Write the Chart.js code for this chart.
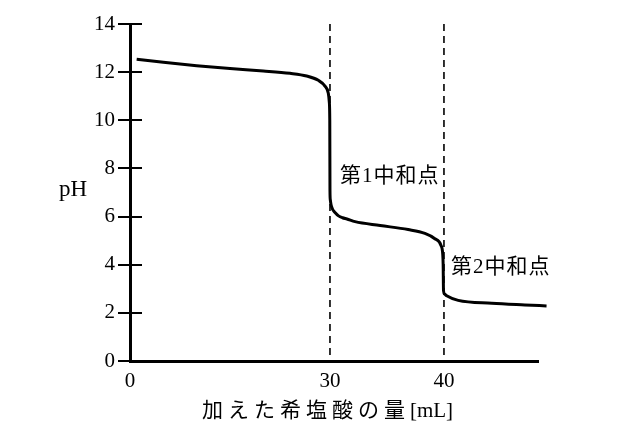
<!DOCTYPE html>
<html>
<head>
<meta charset="utf-8">
<script src="https://cdn.jsdelivr.net/npm/chart.js@4/dist/chart.umd.min.js"></script>
<style>
  html, body { margin: 0; padding: 0; background: #fff; }
  #c { display: block; }
</style>
</head>
<body>
<canvas id="c" width="640" height="445"></canvas>
<script>
// ---- data ----
const volumeML = [1, 5, 10, 15, 20, 24, 26.5, 28.25, 29.25, 29.75, 29.9, 29.97, 30.0, 30.026, 30.09, 30.22, 30.44, 30.75, 31.1, 31.49, 32.2, 34.4, 36.85, 38.33, 39.2, 39.74, 39.89, 39.93, 39.96, 40.04, 40.24, 41.25, 44.2, 47.1, 49];
const pHValues = [12.54, 12.41, 12.27, 12.15, 12.05, 11.95, 11.84, 11.66, 11.42, 11.12, 10.75, 10.0, 7.08, 6.71, 6.50, 6.31, 6.17, 6.03, 5.95, 5.90, 5.79, 5.63, 5.46, 5.30, 5.08, 4.80, 4.45, 4.0, 2.92, 2.79, 2.71, 2.52, 2.40, 2.33, 2.29];
const equivalencePoints = [30, 40];
const equivalenceLabels = ['第1中和点', '第2中和点'];
const xTickValues = [0, 30, 40];
const yTickStep = 2;
const xAxisTitleMain = '加えた希塩酸の量';
const xAxisTitleUnit = '[mL]';
const yAxisTitle = 'pH';

const FONT = '"Liberation Serif", "Noto Sans CJK JP", serif';

// piecewise-stretched linear scale (schematic axis: region after 30 mL is drawn wider)
const STRETCH_FROM = 30, STRETCH_FACTOR = 1.71;
class StretchScale extends Chart.LinearScale {
  warp(v) { return v <= STRETCH_FROM ? v : STRETCH_FROM + (v - STRETCH_FROM) * STRETCH_FACTOR; }
  getPixelForValue(value) {
    if (value === null || value === undefined) return NaN;
    const a = this.warp(this.min), b = this.warp(this.max);
    return this.getPixelForDecimal((this.warp(value) - a) / (b - a));
  }
}
StretchScale.id = 'stretch';
StretchScale.defaults = Chart.LinearScale.defaults;
Chart.register(StretchScale);

const curve = volumeML.map((v, i) => ({ x: v, y: pHValues[i] }));
const dashed = equivalencePoints.map(v => ({
  data: [{ x: v, y: 14 }, { x: v, y: 0 }],
  borderColor: '#000', borderWidth: 1.6, borderDash: [7, 5],
  pointRadius: 0, tension: 0, fill: false
}));

const overlay = {
  id: 'overlay',
  afterDraw(chart) {
    const ctx = chart.ctx, xs = chart.scales.x, ys = chart.scales.y, ca = chart.chartArea;
    ctx.save();
    // y tick marks crossing the axis
    ctx.strokeStyle = '#000'; ctx.lineWidth = 2;
    ys.ticks.forEach((t, i) => {
      const py = Math.round(ys.getPixelForTick(i));
      ctx.beginPath(); ctx.moveTo(ca.left - 12, py); ctx.lineTo(ca.left + 12, py); ctx.stroke();
    });
    ctx.fillStyle = '#000';
    ctx.textBaseline = 'middle';
    // y title
    ctx.font = '23px ' + FONT; ctx.textAlign = 'center';
    ctx.fillText(yAxisTitle, ca.left - 57, ys.getPixelForValue(7.1));
    // x title (main part letter-spaced, unit tight)
    ctx.textAlign = 'left';
    ctx.font = '21px ' + FONT;
    ctx.letterSpacing = '5px';
    const w1 = ctx.measureText(xAxisTitleMain).width;
    ctx.letterSpacing = '0px';
    const w2 = ctx.measureText(xAxisTitleUnit).width;
    const x0 = ca.left + 197.5 - (w1 + w2) / 2;
    const ty = ca.bottom + 50;
    ctx.letterSpacing = '5px';
    ctx.fillText(xAxisTitleMain, x0, ty);
    ctx.letterSpacing = '0px';
    ctx.fillText(xAxisTitleUnit, x0 + w1, ty);
    // equivalence point labels
    ctx.letterSpacing = '1px';
    ctx.font = '21px ' + FONT;
    ctx.fillText(equivalenceLabels[0], xs.getPixelForValue(equivalencePoints[0]) + 10, ys.getPixelForValue(7.67));
    ctx.fillText(equivalenceLabels[1], xs.getPixelForValue(equivalencePoints[1]) + 7, ys.getPixelForValue(3.88));
    ctx.restore();
  }
};

new Chart(document.getElementById('c'), {
  type: 'line',
  data: {
    datasets: [
      { data: curve, borderColor: '#000', borderWidth: 3, pointRadius: 0,
        cubicInterpolationMode: 'monotone', fill: false, clip: false },
      ...dashed
    ]
  },
  options: {
    responsive: false, animation: false, events: [],
    layout: { padding: { left: 0, right: 102, top: 24, bottom: 0 } },
    plugins: { legend: { display: false }, tooltip: { enabled: false }, title: { display: false } },
    scales: {
      x: {
        type: 'stretch', min: 0, max: 48.25,
        afterBuildTicks: s => { s.ticks = xTickValues.map(v => ({ value: v })); },
        afterFit: s => { s.height = 84; s.paddingLeft = 0; s.paddingRight = 0; },
        grid: { display: true, drawOnChartArea: false, drawTicks: false },
        border: { display: true, color: '#000', width: 3 },
        ticks: { color: '#000', padding: 8, maxRotation: 0, autoSkip: false,
                 font: { family: FONT, size: 21 }, callback: v => String(v) }
      },
      y: {
        type: 'linear', min: 0, max: 14,
        afterFit: s => { s.width = 130; s.paddingTop = 0; s.paddingBottom = 0; },
        grid: { display: true, drawOnChartArea: false, drawTicks: false },
        border: { display: true, color: '#000', width: 3 },
        ticks: { stepSize: yTickStep, color: '#000', padding: 15,
                 font: { family: FONT, size: 21 } }
      }
    }
  },
  plugins: [overlay]
});
</script>
</body>
</html>
